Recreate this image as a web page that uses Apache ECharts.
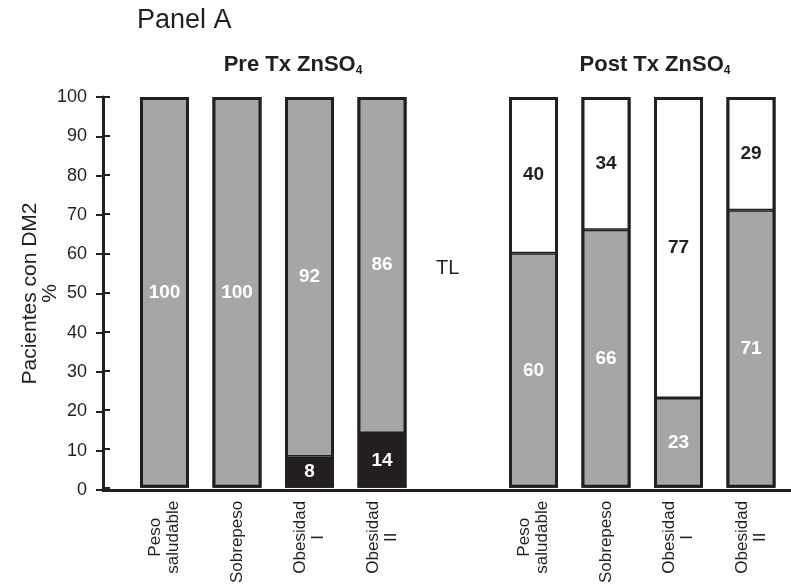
<!DOCTYPE html>
<html>
<head>
<meta charset="utf-8">
<script src="https://cdn.jsdelivr.net/npm/echarts@6/dist/echarts.min.js"></script>
<style>html,body{margin:0;padding:0;background:#fff}#c{width:791px;height:586px}</style>
</head>
<body>
<div id="c"></div>
<script>
const categories = ['Peso\nsaludable', 'Sobrepeso', 'Obesidad\nI', 'Obesidad\nII'];
const preBlack = [0, 0, 8, 14];
const preGray = [100, 100, 92, 86];
const postGray = [60, 66, 23, 71];
const postWhite = [40, 34, 77, 29];
const yMin = 0, yMax = 100, yStep = 10;

const INK = '#231f20';
const GRAY = '#a6a6a6';
const FONT = '"Liberation Sans", Arial, sans-serif';

const chart = echarts.init(document.getElementById('c'), null, {renderer: 'canvas'});

const gTop = 97, gBottom = 96;
const catLabel = {
  show: true, rotate: 90, margin: 13, color: INK, fontFamily: FONT, fontSize: 17,
  formatter: v => v.indexOf('\n') >= 0 ? v.split('\n').map(s => '{c|' + s + '}').join('\n') : v,
  rich: { c: { width: 73, align: 'center', fontSize: 17, lineHeight: 18, fontFamily: FONT, color: INK } }
};
const barLabel = (color) => ({
  show: true, position: 'inside', color: color, fontFamily: FONT, fontWeight: 'bold', fontSize: 19,
  formatter: p => String(p.value)
});
const BW = 49;
const seg = (xi, stack, vals, fill, lblColor) => ({
  type: 'bar', xAxisIndex: xi, yAxisIndex: xi, stack: stack, barWidth: BW, barGap: '-100%',
  data: vals.map(v => v === 0 ? null : v),
  itemStyle: { color: fill, borderColor: INK, borderWidth: 1.5 },
  label: barLabel(lblColor), z: 2
});
const outline = (xi, a, b) => ({
  type: 'bar', xAxisIndex: xi, yAxisIndex: xi, barWidth: BW, barGap: '-100%', silent: true,
  data: a.map((v, i) => v + b[i]),
  itemStyle: { color: 'rgba(0,0,0,0)', borderColor: INK, borderWidth: 3 },
  label: { show: false }, z: 3
});

chart.setOption({
  animation: false,
  backgroundColor: '#ffffff',
  grid: [
    { left: 128.25, top: gTop, width: 290, bottom: gBottom },
    { left: 497.25, top: gTop, width: 290, bottom: gBottom },
    { left: 103, top: gTop, right: 0, bottom: gBottom }
  ],
  xAxis: [
    { type: 'category', gridIndex: 0, data: categories, axisLine: {show: false}, axisTick: {show: false}, axisLabel: catLabel },
    { type: 'category', gridIndex: 1, data: categories, axisLine: {show: false}, axisTick: {show: false}, axisLabel: catLabel },
    { type: 'category', gridIndex: 2, data: [''], axisLine: {show: true, lineStyle: {color: INK, width: 3}}, axisTick: {show: false}, axisLabel: {show: false} }
  ],
  yAxis: [
    { type: 'value', gridIndex: 0, min: yMin, max: yMax, interval: yStep, offset: 25.25,
      axisLine: {show: false}, splitLine: {show: false}, axisLabel: {show: false},
      axisTick: {show: true, inside: true, length: 7, lineStyle: {color: INK, width: 2}} },
    { type: 'value', gridIndex: 1, min: yMin, max: yMax, interval: yStep, show: false, splitLine: {show: false} },
    { type: 'value', gridIndex: 2, min: yMin, max: yMax, interval: yStep,
      axisLine: {show: true, lineStyle: {color: INK, width: 3}},
      axisTick: {show: true, inside: false, length: 7, lineStyle: {color: INK, width: 2}},
      splitLine: {show: false},
      axisLabel: {margin: 16, color: INK, fontFamily: FONT, fontSize: 18},
      name: 'Pacientes con DM2\n%', nameLocation: 'middle', nameRotate: 90, nameGap: 43,
      nameMoveOverlap: false,
      nameTextStyle: {color: INK, fontFamily: FONT, fontSize: 21, lineHeight: 20} }
  ],
  series: [
    seg(0, 'pre', preBlack, INK, '#ffffff'),
    seg(0, 'pre', preGray, GRAY, '#ffffff'),
    outline(0, preBlack, preGray),
    seg(1, 'post', postGray, GRAY, '#ffffff'),
    seg(1, 'post', postWhite, '#ffffff', INK),
    outline(1, postGray, postWhite)
  ],
  graphic: [
    { type: 'text', x: 137, y: 21, style: { text: 'Panel A', fill: INK, font: '27px ' + FONT, align: 'left', verticalAlign: 'middle' } },
    { type: 'text', x: 293, y: 53, style: {
        text: '{b|Pre Tx ZnSO}{s|4}', align: 'center', verticalAlign: 'top',
        rich: { b: {fontSize: 22, fontWeight: 'bold', fontFamily: FONT, fill: INK, lineHeight: 24},
                s: {fontSize: 12, fontWeight: 'bold', fontFamily: FONT, fill: INK, lineHeight: 12, verticalAlign: 'bottom'} } } },
    { type: 'text', x: 655, y: 53, style: {
        text: '{b|Post Tx ZnSO}{s|4}', align: 'center', verticalAlign: 'top',
        rich: { b: {fontSize: 22, fontWeight: 'bold', fontFamily: FONT, fill: INK, lineHeight: 24},
                s: {fontSize: 12, fontWeight: 'bold', fontFamily: FONT, fill: INK, lineHeight: 12, verticalAlign: 'bottom'} } } },
    { type: 'text', x: 436, y: 268, style: { text: 'TL', fill: INK, font: '20px ' + FONT, align: 'left', verticalAlign: 'middle' } }
  ]
});
</script>
</body>
</html>
